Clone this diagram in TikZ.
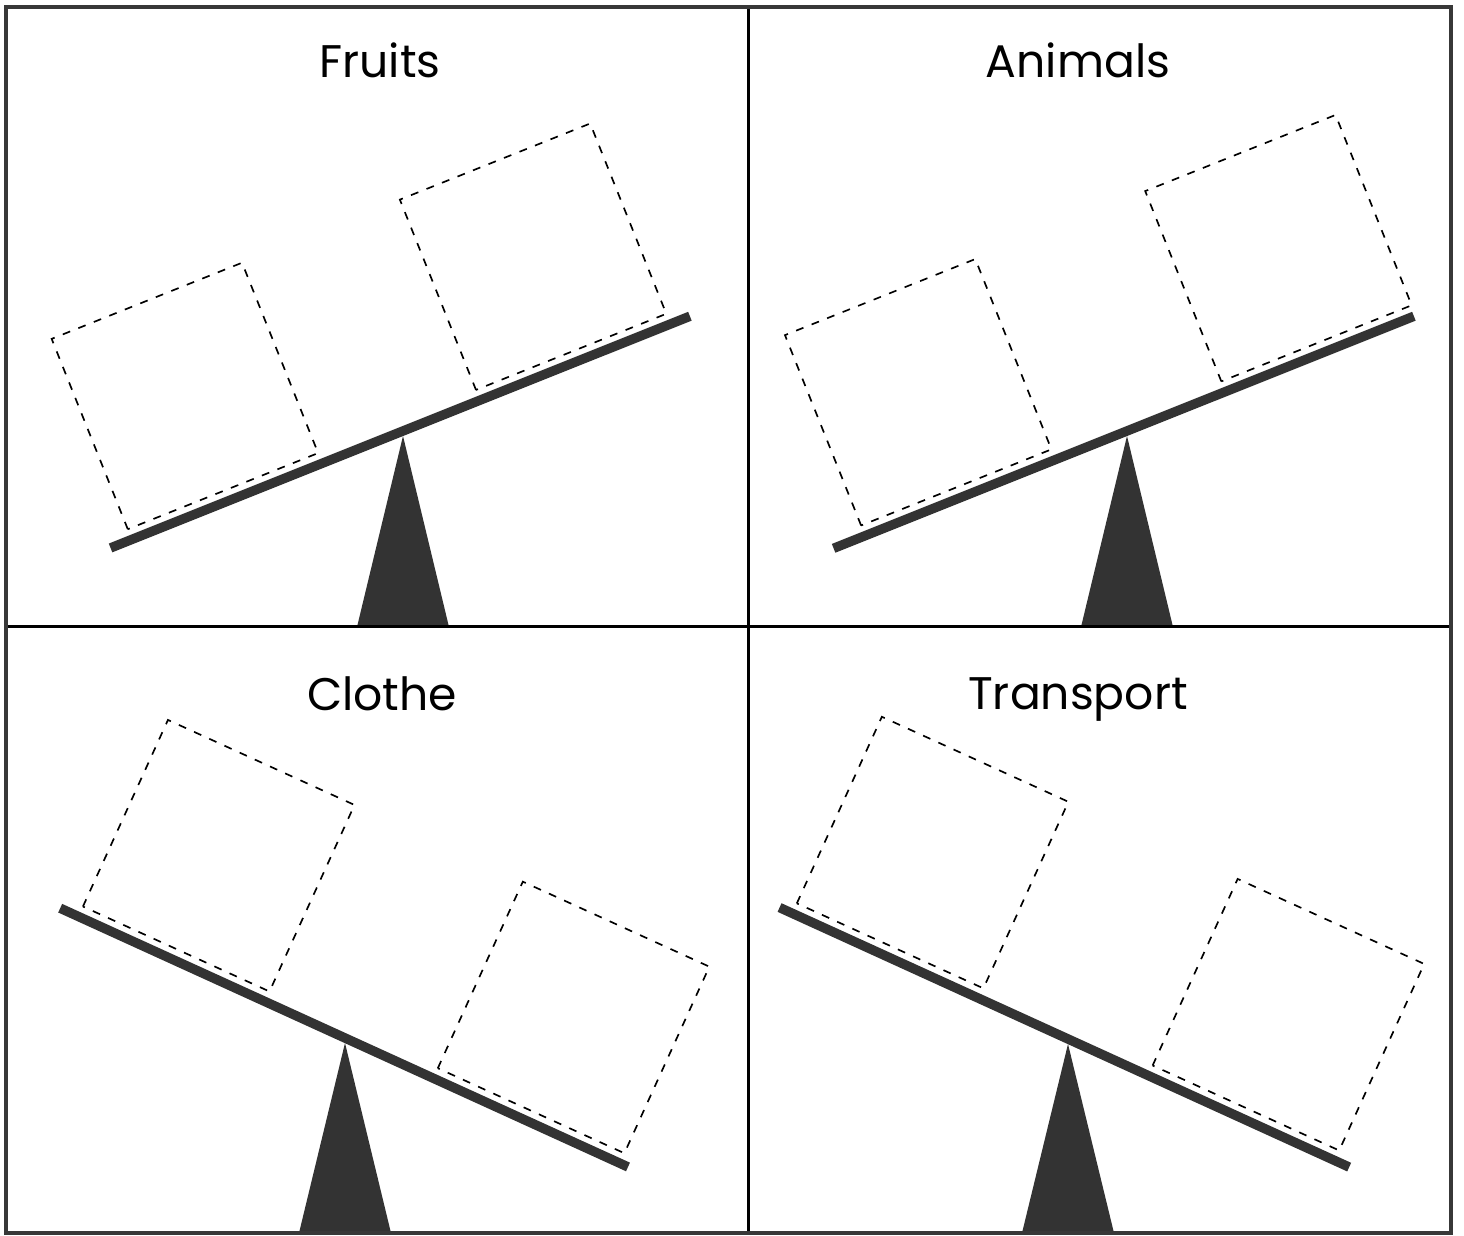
\documentclass[tikz,border=0pt]{standalone}
\usepackage{fontspec}
\setmainfont{Poppins}
\usepackage{tikz}

\begin{document}
\begin{tikzpicture}[x=0.02cm, y=0.02cm,
  frame/.style={draw=black!78, line width=2.3pt},
  divider/.style={draw=black, line width=1.7pt},
  beam/.style={draw=black!80, line width=5.4pt},
  fulcrum/.style={fill=black!80},
  slot/.style={draw=black, line width=0.95pt, dash pattern=on 4.5pt off 5pt},
  title/.style={font=\fontsize{26}{30}\selectfont, anchor=base, inner sep=0pt}]
  \useasboundingbox (0,0) rectangle (1464,1236);
  % one seesaw per panel: name/pivot x/pivot y/angle/beam ends/box starts/floor/title pos
  \foreach \name/\px/\py/\ang/\l/\r/\ba/\bb/\base/\tx/\ty in {%
    Fruits/403/805/21.8/-315/309/-292/83/609/380/1158,
    Animals/1127/805/21.8/-316/309/-282/106/609/1078/1158,
    Clothe/345/198/-24.5/-313/311/-293/97/3/382/525,
    Transport/1068/197/-24.5/-317/309/-303/88/3/1078/526} {
    \node[title] (title-\name) at (\tx,\ty) {\name};
    \coordinate (pivot-\name) at (\px,\py);
    \fill[fulcrum] (\px,\py-5) -- (\px-46,\base) -- (\px+46,\base) -- cycle;
    \begin{scope}[shift={(pivot-\name)}, rotate=\ang]
      \draw[slot] (\ba,11) rectangle ++(205,205);
      \draw[slot] (\bb,11) rectangle ++(205,205);
      \draw[beam] (\l,0) -- (\r,0);
    \end{scope}
  }
  \draw[divider] (748,3) -- (748,1228);
  \draw[divider] (6,609) -- (1451,609);
  \draw[frame] (6,3) rectangle (1451,1229);
\end{tikzpicture}
\end{document}
